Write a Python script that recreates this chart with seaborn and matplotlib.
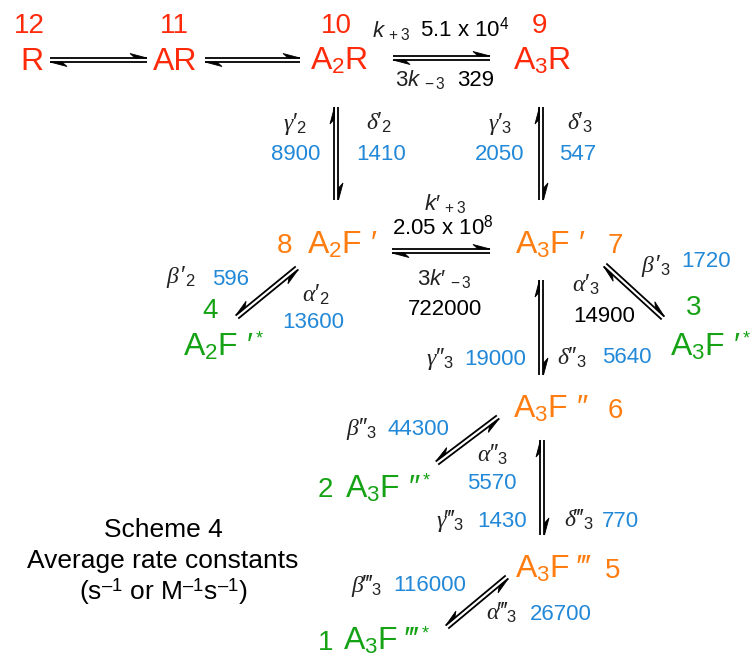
import matplotlib
matplotlib.use('Agg')
import matplotlib.pyplot as plt
import numpy as np
import seaborn as sns

state_numbers = ['12', '11', '10', '9', '8', '7', '6', '5', '4', '3', '2', '1']
species = ['R', 'AR', 'A$_2$R', 'A$_3$R',
           'A$_2$F \u2032', 'A$_3$F \u2032', 'A$_3$F \u2033', 'A$_3$F \u2034',
           'A$_2$F \u2032', 'A$_3$F \u2032', 'A$_3$F \u2033', 'A$_3$F \u2034']
excited = [False] * 8 + [True] * 4
species_kind = ['closed'] * 4 + ['open'] * 4 + ['flip'] * 4

P1, P2, P3 = '\u2032', '\u2033', '\u2034'
rate_symbols = ['$\\mathsf{k}_{\\;+3}$', '3$\\mathsf{k}_{\\;-3}$',
                '$\\gamma' + P1 + '_2$', '$\\delta' + P1 + '_2$',
                '$\\gamma' + P1 + '_3$', '$\\delta' + P1 + '_3$',
                '$\\mathsf{k}' + P1 + '_{\\;+3}$', '3$\\mathsf{k}' + P1 + '_{\\;-3}$',
                '$\\beta\\,' + P1 + '_2$', '$\\alpha' + P1 + '_2$',
                '$\\beta\\,' + P1 + '_3$', '$\\alpha' + P1 + '_3$',
                '$\\gamma' + P2 + '_3$', '$\\delta' + P2 + '_3$',
                '$\\beta' + P2 + '_3$', '$\\alpha' + P2 + '_3$',
                '$\\gamma' + P3 + '_3$', '$\\delta' + P3 + '_3$',
                '$\\beta' + P3 + '_3$', '$\\alpha' + P3 + '_3$']
rate_values = ['5.1 x 10$^{4}$', '329', '8900', '1410', '2050', '547',
               '2.05 x 10$^{8}$', '722000', '596', '13600', '1720', '14900',
               '19000', '5640', '44300', '5570', '1430', '770', '116000', '26700']
value_is_fit = [False, False, True, True, True, True, False, False, True, True,
                True, False, True, True, True, True, True, True, True, True]

caption = ['Scheme 4', 'Average rate constants',
           '(s$^{\u2013\\mathrm{1}}$ or M$^{\u2013\\mathrm{1}}$s$^{\u2013\\mathrm{1}}$)']

# ---- layout (pixel coordinates, y down) ----
number_pos = [(29, 33), (174, 33), (336, 33), (540, 33), (285, 253), (615, 253),
              (615, 418), (613, 578), (210, 318), (694, 315), (325, 497), (326, 650)]
species_pos = [(20, 70), (153, 70), (310, 70), (513, 70), (307, 253), (515, 253),
               (513, 418), (515, 578), (183, 355), (670, 355), (345, 497), (343, 650)]
symbol_pos = [(372, 37), (395, 86), (283, 130), (366, 130), (488, 130), (567, 130),
              (424, 210), (417, 285), (166, 283), (302, 302), (641, 272), (572, 292),
              (426, 365), (557, 365), (346, 435), (477, 462), (436, 527), (564, 527),
              (351, 592), (486, 620)]
value_pos = [(420, 37), (457, 86), (296, 160), (381, 160), (500, 160), (578, 160),
             (443, 235), (445, 315), (231, 285), (313, 328), (706, 267), (604, 322),
             (495, 365), (627, 363), (418, 435), (492, 489), (502, 527), (620, 527),
             (430, 591), (561, 620)]
arrows = [((50, 60), (147, 60), 1), ((205, 60), (300, 60), 1),
          ((393, 58), (490, 58), 1), ((392, 251), (490, 251), 1),
          ((336.5, 107), (336.5, 200), 1), ((541.5, 107), (541.5, 200), 1),
          ((541.5, 280), (541.5, 375), 1), ((542.5, 440), (542.5, 535), 1),
          ((297, 268), (237, 317), -1), ((605, 265), (663, 318), 1),
          ((498, 417), (437, 463), -1), ((507, 577), (447, 627), -1)]

colors = {'closed': '#ff2a0a', 'open': '#ff7d10', 'flip': '#15a315'}
blue = '#2288d8'

sns.set_theme(style='white')
plt.rcParams['font.family'] = ['Liberation Sans', 'DejaVu Sans']
plt.rcParams['mathtext.fontset'] = 'custom'
plt.rcParams['mathtext.rm'] = 'Liberation Sans'
plt.rcParams['mathtext.it'] = 'Liberation Serif:italic'
plt.rcParams['mathtext.sf'] = 'Liberation Sans:italic'
plt.rcParams['mathtext.fallback'] = 'stixsans'

fig = plt.figure(figsize=(7.53, 6.61), dpi=100)
ax = fig.add_axes([0, 0, 1, 1])
ax.set_xlim(0, 753)
ax.set_ylim(661, 0)
ax.axis('off')
renderer = fig.canvas.get_renderer()


def harpoons(p1, p2, side, gap=4.0, barb=17, bw=4.5):
    p1, p2 = np.array(p1, float), np.array(p2, float)
    u = (p2 - p1) / np.linalg.norm(p2 - p1)
    n = np.array([u[1], -u[0]]) * side
    a1, a2 = p1 + n * gap / 2, p2 + n * gap / 2
    b1, b2 = p1 - n * gap / 2, p2 - n * gap / 2
    ax.plot([a1[0], a2[0]], [a1[1], a2[1]], color='black', lw=1.3, solid_capstyle='butt')
    ax.plot([b1[0], b2[0]], [b1[1], b2[1]], color='black', lw=1.3, solid_capstyle='butt')
    head = [a2, a2 - u * barb + n * bw, a2 - u * barb * 0.7]
    ax.fill(*zip(*head), color='black', lw=0.6)
    tail = [b1, b1 + u * barb - n * bw, b1 + u * barb * 0.7]
    ax.fill(*zip(*tail), color='black', lw=0.6)


for p1, p2, side in arrows:
    harpoons(p1, p2, side)

for i, num in enumerate(state_numbers):
    x, y = number_pos[i]
    ax.text(x, y, num, fontsize=20, color=colors[species_kind[i]], ha='center', va='baseline')

for i, name in enumerate(species):
    x, y = species_pos[i]
    t = ax.text(x, y, name, fontsize=23, color=colors[species_kind[i]], ha='left', va='baseline')
    if excited[i]:
        bb = t.get_window_extent(renderer=renderer)
        xe = ax.transData.inverted().transform((bb.x1, bb.y0))[0]
        ax.text(xe + 2, y - 12, '*', fontsize=13, color=colors[species_kind[i]],
                ha='left', va='baseline')

for i, sym in enumerate(rate_symbols):
    x, y = symbol_pos[i]
    fs = 16 if i in (0, 1, 6, 7) else 17
    ax.text(x, y, sym, fontsize=fs, color='#222222', ha='left', va='baseline')
    vx, vy = value_pos[i]
    col = blue if value_is_fit[i] else 'black'
    ha = 'left' if i in (0, 1) else 'center'
    ax.text(vx, vy, rate_values[i], fontsize=16, color=col, ha=ha, va='baseline')

for line, y in zip(caption, [537, 568, 600]):
    ax.text(163, y, line, fontsize=19, color='black', ha='center', va='baseline')

fig.savefig('out.png', dpi=100)
